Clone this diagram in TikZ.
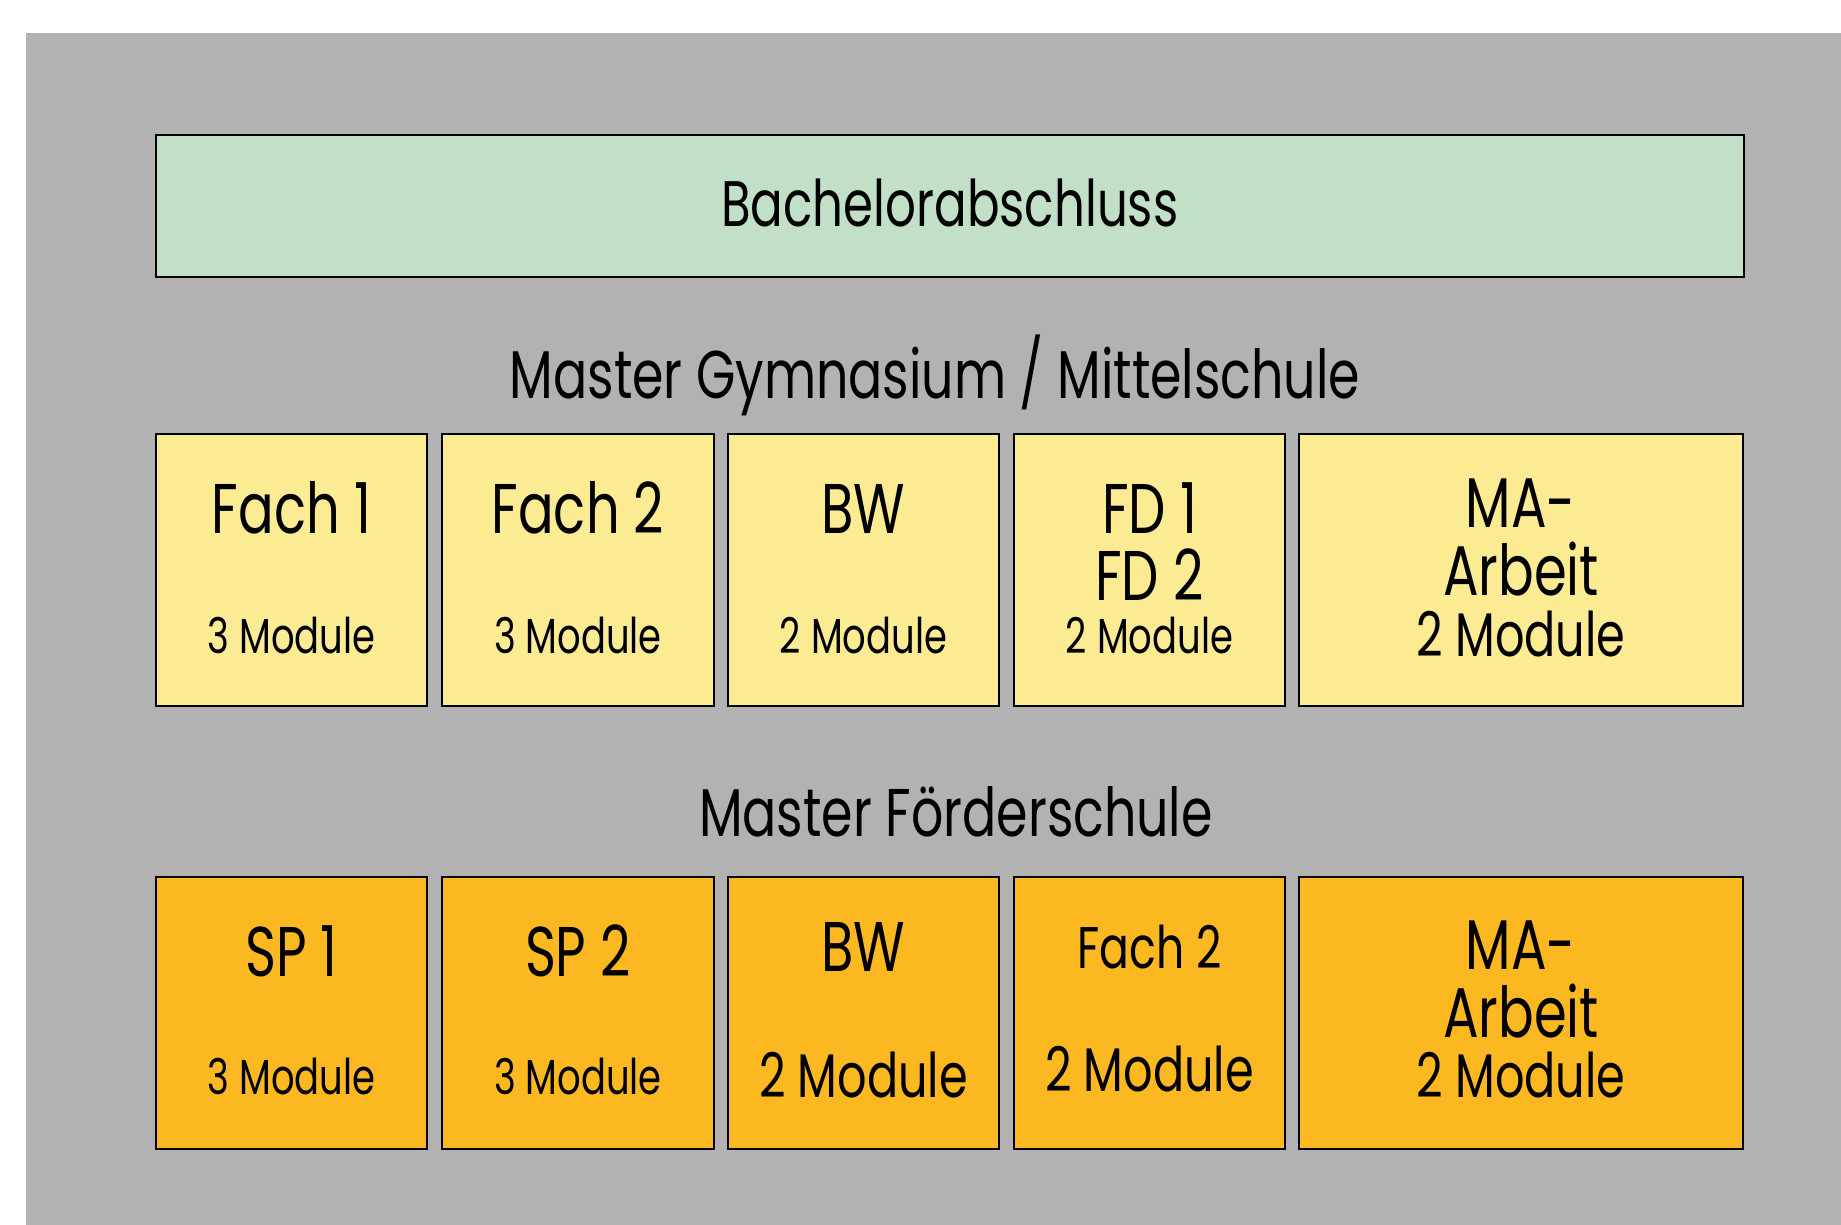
\documentclass[tikz,border=0pt]{standalone}
\usepackage{fontspec}
\setmainfont[FakeStretch=0.75]{Poppins}
\usetikzlibrary{calc}
\usetikzlibrary{positioning}
\definecolor{bggray}{HTML}{B2B2B2}
\definecolor{bagreen}{HTML}{C2E0C8}
\definecolor{gymyellow}{HTML}{FBEB93}
\definecolor{foeorange}{HTML}{FBB820}

\begin{document}
\begin{tikzpicture}[x=0.01cm, y=-0.01cm,
    modbox/.style={draw, line width=0.5pt, anchor=north west, inner sep=0pt, minimum height=2.72cm},
    bigtext/.style={anchor=base, font=\fontsize{20}{24}\selectfont},
    midtext/.style={anchor=base, font=\fontsize{17.5}{21}\selectfont},
    smalltext/.style={anchor=base, font=\fontsize{14}{17}\selectfont},
    titletext/.style={anchor=base, font=\fontsize{19.2}{23}\selectfont}]
  \useasboundingbox (0,0) rectangle (1841,1225);
  \fill [bggray] (26,33) rectangle (1841,1225);

  % Bachelor
  \node [modbox, fill=bagreen, minimum width=15.87cm, minimum height=1.42cm] (ba) at (155,134) {};
  \node [anchor=base, font=\fontsize{18.3}{22}\selectfont] (batxt) at ($(ba.north)+(0,93)$) {Bachelorabschluss};

  % Master Gymnasium / Mittelschule
  \node [titletext] (gymtitle) at (935,399) {Master Gymnasium / Mittelschule};
  \foreach \name/\x/\w in {gf1/155/2.71, gf2/441/2.72, gbw/727/2.71, gfd/1013/2.71, gma/1298/4.44}{
    \node [modbox, fill=gymyellow, minimum width=\w cm] (\name) at (\x,433) {};
  }
  \node [bigtext] (gf1a) at ($(gf1.north)+(0,101)$) {Fach 1};
  \node [smalltext] (gf1b) at ($(gf1.north)+(0,221)$) {3 Module};
  \node [bigtext] (gf2a) at ($(gf2.north)+(0,101)$) {Fach 2};
  \node [smalltext] (gf2b) at ($(gf2.north)+(0,221)$) {3 Module};
  \node [bigtext] (gbwa) at ($(gbw.north)+(0,101)$) {BW};
  \node [smalltext] (gbwb) at ($(gbw.north)+(0,221)$) {2 Module};
  \node [bigtext] (gfda) at ($(gfd.north)+(0,101)$) {FD 1};
  \node [bigtext] (gfdb) at ($(gfd.north)+(0,168)$) {FD 2};
  \node [smalltext] (gfdc) at ($(gfd.north)+(0,221)$) {2 Module};
  \node [bigtext] (gmaa) at ($(gma.north)+(0,95)$) {MA-};
  \node [bigtext] (gmab) at ($(gma.north)+(0,163)$) {Arbeit};
  \node [midtext] (gmac) at ($(gma.north)+(0,224)$) {2 Module};

  % Master Foerderschule
  \node [titletext] (foetitle) at (956,837) {Master Förderschule};
  \foreach \name/\x/\w in {fsp1/155/2.71, fsp2/441/2.72, fbw/727/2.71, ffa/1013/2.71, fma/1298/4.44}{
    \node [modbox, fill=foeorange, minimum width=\w cm] (\name) at (\x,876) {};
  }
  \node [bigtext] (fsp1a) at ($(fsp1.north)+(0,101)$) {SP 1};
  \node [smalltext] (fsp1b) at ($(fsp1.north)+(0,219)$) {3 Module};
  \node [bigtext] (fsp2a) at ($(fsp2.north)+(0,101)$) {SP 2};
  \node [smalltext] (fsp2b) at ($(fsp2.north)+(0,219)$) {3 Module};
  \node [bigtext] (fbwa) at ($(fbw.north)+(0,96)$) {BW};
  \node [midtext] (fbwb) at ($(fbw.north)+(0,222)$) {2 Module};
  \node [anchor=base, font=\fontsize{16.7}{20}\selectfont] (ffaa) at ($(ffa.north)+(0,93)$) {Fach 2};
  \node [midtext] (ffab) at ($(ffa.north)+(0,216)$) {2 Module};
  \node [bigtext] (fmaa) at ($(fma.north)+(0,94)$) {MA-};
  \node [bigtext] (fmab) at ($(fma.north)+(0,162)$) {Arbeit};
  \node [midtext] (fmac) at ($(fma.north)+(0,222)$) {2 Module};
\end{tikzpicture}
\end{document}
